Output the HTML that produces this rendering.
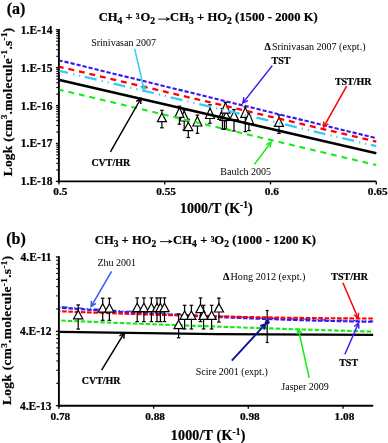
<!DOCTYPE html>
<html><head><meta charset="utf-8"><style>
html,body{margin:0;padding:0;background:#fff;}
svg{display:block;will-change:transform;}
text{font-family:"Liberation Serif", serif;fill:#000;}
text[font-weight="bold"],tspan[font-weight="bold"]{stroke:#000;stroke-width:0.22px;}
</style></head><body>
<svg width="388" height="443" viewBox="0 0 388 443">
<rect width="388" height="443" fill="#fff"/>
<line x1="58.90" y1="29.00" x2="58.90" y2="182.30" stroke="#000" stroke-width="1.9" stroke-linecap="butt"/>
<line x1="58.00" y1="181.40" x2="376.30" y2="181.40" stroke="#000" stroke-width="1.9" stroke-linecap="butt"/>
<line x1="55.90" y1="29.80" x2="58.90" y2="29.80" stroke="#000" stroke-width="1.3" stroke-linecap="butt"/>
<line x1="55.90" y1="67.70" x2="58.90" y2="67.70" stroke="#000" stroke-width="1.3" stroke-linecap="butt"/>
<line x1="56.30" y1="56.29" x2="58.90" y2="56.29" stroke="#000" stroke-width="1.15" stroke-linecap="butt"/>
<line x1="56.30" y1="49.62" x2="58.90" y2="49.62" stroke="#000" stroke-width="1.15" stroke-linecap="butt"/>
<line x1="56.30" y1="44.88" x2="58.90" y2="44.88" stroke="#000" stroke-width="1.15" stroke-linecap="butt"/>
<line x1="56.30" y1="41.21" x2="58.90" y2="41.21" stroke="#000" stroke-width="1.15" stroke-linecap="butt"/>
<line x1="56.30" y1="38.21" x2="58.90" y2="38.21" stroke="#000" stroke-width="1.15" stroke-linecap="butt"/>
<line x1="56.30" y1="35.67" x2="58.90" y2="35.67" stroke="#000" stroke-width="1.15" stroke-linecap="butt"/>
<line x1="56.30" y1="33.47" x2="58.90" y2="33.47" stroke="#000" stroke-width="1.15" stroke-linecap="butt"/>
<line x1="56.30" y1="31.53" x2="58.90" y2="31.53" stroke="#000" stroke-width="1.15" stroke-linecap="butt"/>
<line x1="55.90" y1="105.60" x2="58.90" y2="105.60" stroke="#000" stroke-width="1.3" stroke-linecap="butt"/>
<line x1="56.30" y1="94.19" x2="58.90" y2="94.19" stroke="#000" stroke-width="1.15" stroke-linecap="butt"/>
<line x1="56.30" y1="87.52" x2="58.90" y2="87.52" stroke="#000" stroke-width="1.15" stroke-linecap="butt"/>
<line x1="56.30" y1="82.78" x2="58.90" y2="82.78" stroke="#000" stroke-width="1.15" stroke-linecap="butt"/>
<line x1="56.30" y1="79.11" x2="58.90" y2="79.11" stroke="#000" stroke-width="1.15" stroke-linecap="butt"/>
<line x1="56.30" y1="76.11" x2="58.90" y2="76.11" stroke="#000" stroke-width="1.15" stroke-linecap="butt"/>
<line x1="56.30" y1="73.57" x2="58.90" y2="73.57" stroke="#000" stroke-width="1.15" stroke-linecap="butt"/>
<line x1="56.30" y1="71.37" x2="58.90" y2="71.37" stroke="#000" stroke-width="1.15" stroke-linecap="butt"/>
<line x1="56.30" y1="69.43" x2="58.90" y2="69.43" stroke="#000" stroke-width="1.15" stroke-linecap="butt"/>
<line x1="55.90" y1="143.50" x2="58.90" y2="143.50" stroke="#000" stroke-width="1.3" stroke-linecap="butt"/>
<line x1="56.30" y1="132.09" x2="58.90" y2="132.09" stroke="#000" stroke-width="1.15" stroke-linecap="butt"/>
<line x1="56.30" y1="125.42" x2="58.90" y2="125.42" stroke="#000" stroke-width="1.15" stroke-linecap="butt"/>
<line x1="56.30" y1="120.68" x2="58.90" y2="120.68" stroke="#000" stroke-width="1.15" stroke-linecap="butt"/>
<line x1="56.30" y1="117.01" x2="58.90" y2="117.01" stroke="#000" stroke-width="1.15" stroke-linecap="butt"/>
<line x1="56.30" y1="114.01" x2="58.90" y2="114.01" stroke="#000" stroke-width="1.15" stroke-linecap="butt"/>
<line x1="56.30" y1="111.47" x2="58.90" y2="111.47" stroke="#000" stroke-width="1.15" stroke-linecap="butt"/>
<line x1="56.30" y1="109.27" x2="58.90" y2="109.27" stroke="#000" stroke-width="1.15" stroke-linecap="butt"/>
<line x1="56.30" y1="107.33" x2="58.90" y2="107.33" stroke="#000" stroke-width="1.15" stroke-linecap="butt"/>
<line x1="55.90" y1="181.40" x2="58.90" y2="181.40" stroke="#000" stroke-width="1.3" stroke-linecap="butt"/>
<line x1="56.30" y1="169.99" x2="58.90" y2="169.99" stroke="#000" stroke-width="1.15" stroke-linecap="butt"/>
<line x1="56.30" y1="163.32" x2="58.90" y2="163.32" stroke="#000" stroke-width="1.15" stroke-linecap="butt"/>
<line x1="56.30" y1="158.58" x2="58.90" y2="158.58" stroke="#000" stroke-width="1.15" stroke-linecap="butt"/>
<line x1="56.30" y1="154.91" x2="58.90" y2="154.91" stroke="#000" stroke-width="1.15" stroke-linecap="butt"/>
<line x1="56.30" y1="151.91" x2="58.90" y2="151.91" stroke="#000" stroke-width="1.15" stroke-linecap="butt"/>
<line x1="56.30" y1="149.37" x2="58.90" y2="149.37" stroke="#000" stroke-width="1.15" stroke-linecap="butt"/>
<line x1="56.30" y1="147.17" x2="58.90" y2="147.17" stroke="#000" stroke-width="1.15" stroke-linecap="butt"/>
<line x1="56.30" y1="145.23" x2="58.90" y2="145.23" stroke="#000" stroke-width="1.15" stroke-linecap="butt"/>
<line x1="58.90" y1="181.40" x2="58.90" y2="184.40" stroke="#000" stroke-width="1.3" stroke-linecap="butt"/>
<text x="60.3" y="195.2" font-size="11.3" font-weight="bold" text-anchor="middle" >0.5</text>
<line x1="164.70" y1="181.40" x2="164.70" y2="184.40" stroke="#000" stroke-width="1.3" stroke-linecap="butt"/>
<text x="166.1" y="195.2" font-size="11.3" font-weight="bold" text-anchor="middle" >0.55</text>
<line x1="270.50" y1="181.40" x2="270.50" y2="184.40" stroke="#000" stroke-width="1.3" stroke-linecap="butt"/>
<text x="271.9" y="195.2" font-size="11.3" font-weight="bold" text-anchor="middle" >0.6</text>
<line x1="376.30" y1="181.40" x2="376.30" y2="184.40" stroke="#000" stroke-width="1.3" stroke-linecap="butt"/>
<text x="377.7" y="195.2" font-size="11.3" font-weight="bold" text-anchor="middle" >0.65</text>
<text x="52.4" y="33.7" font-size="11.5" font-weight="bold" text-anchor="end" >1.E-14</text>
<text x="52.4" y="71.6" font-size="11.5" font-weight="bold" text-anchor="end" >1.E-15</text>
<text x="52.4" y="109.5" font-size="11.5" font-weight="bold" text-anchor="end" >1.E-16</text>
<text x="52.4" y="147.4" font-size="11.5" font-weight="bold" text-anchor="end" >1.E-17</text>
<text x="52.4" y="185.3" font-size="11.5" font-weight="bold" text-anchor="end" >1.E-18</text>
<line x1="161.90" y1="110.30" x2="161.90" y2="127.80" stroke="#000" stroke-width="1.2" stroke-linecap="butt"/>
<line x1="160.10" y1="110.30" x2="163.70" y2="110.30" stroke="#000" stroke-width="1.2" stroke-linecap="butt"/>
<line x1="160.10" y1="127.80" x2="163.70" y2="127.80" stroke="#000" stroke-width="1.2" stroke-linecap="butt"/>
<line x1="184.20" y1="110.00" x2="184.20" y2="129.80" stroke="#000" stroke-width="1.2" stroke-linecap="butt"/>
<line x1="182.40" y1="110.00" x2="186.00" y2="110.00" stroke="#000" stroke-width="1.2" stroke-linecap="butt"/>
<line x1="182.40" y1="129.80" x2="186.00" y2="129.80" stroke="#000" stroke-width="1.2" stroke-linecap="butt"/>
<line x1="179.40" y1="106.20" x2="179.40" y2="124.20" stroke="#000" stroke-width="1.2" stroke-linecap="butt"/>
<line x1="177.60" y1="106.20" x2="181.20" y2="106.20" stroke="#000" stroke-width="1.2" stroke-linecap="butt"/>
<line x1="177.60" y1="124.20" x2="181.20" y2="124.20" stroke="#000" stroke-width="1.2" stroke-linecap="butt"/>
<line x1="188.30" y1="119.30" x2="188.30" y2="137.50" stroke="#000" stroke-width="1.2" stroke-linecap="butt"/>
<line x1="186.50" y1="119.30" x2="190.10" y2="119.30" stroke="#000" stroke-width="1.2" stroke-linecap="butt"/>
<line x1="186.50" y1="137.50" x2="190.10" y2="137.50" stroke="#000" stroke-width="1.2" stroke-linecap="butt"/>
<line x1="197.40" y1="115.10" x2="197.40" y2="133.30" stroke="#000" stroke-width="1.2" stroke-linecap="butt"/>
<line x1="195.60" y1="115.10" x2="199.20" y2="115.10" stroke="#000" stroke-width="1.2" stroke-linecap="butt"/>
<line x1="195.60" y1="133.30" x2="199.20" y2="133.30" stroke="#000" stroke-width="1.2" stroke-linecap="butt"/>
<line x1="210.00" y1="104.80" x2="210.00" y2="123.20" stroke="#000" stroke-width="1.2" stroke-linecap="butt"/>
<line x1="208.20" y1="104.80" x2="211.80" y2="104.80" stroke="#000" stroke-width="1.2" stroke-linecap="butt"/>
<line x1="208.20" y1="123.20" x2="211.80" y2="123.20" stroke="#000" stroke-width="1.2" stroke-linecap="butt"/>
<line x1="222.40" y1="108.50" x2="222.40" y2="129.00" stroke="#000" stroke-width="1.2" stroke-linecap="butt"/>
<line x1="220.60" y1="108.50" x2="224.20" y2="108.50" stroke="#000" stroke-width="1.2" stroke-linecap="butt"/>
<line x1="220.60" y1="129.00" x2="224.20" y2="129.00" stroke="#000" stroke-width="1.2" stroke-linecap="butt"/>
<line x1="224.40" y1="112.00" x2="224.40" y2="129.30" stroke="#000" stroke-width="1.2" stroke-linecap="butt"/>
<line x1="222.60" y1="112.00" x2="226.20" y2="112.00" stroke="#000" stroke-width="1.2" stroke-linecap="butt"/>
<line x1="222.60" y1="129.30" x2="226.20" y2="129.30" stroke="#000" stroke-width="1.2" stroke-linecap="butt"/>
<line x1="226.30" y1="112.50" x2="226.30" y2="129.00" stroke="#000" stroke-width="1.2" stroke-linecap="butt"/>
<line x1="224.50" y1="112.50" x2="228.10" y2="112.50" stroke="#000" stroke-width="1.2" stroke-linecap="butt"/>
<line x1="224.50" y1="129.00" x2="228.10" y2="129.00" stroke="#000" stroke-width="1.2" stroke-linecap="butt"/>
<line x1="225.50" y1="102.40" x2="225.50" y2="121.00" stroke="#000" stroke-width="1.2" stroke-linecap="butt"/>
<line x1="223.70" y1="102.40" x2="227.30" y2="102.40" stroke="#000" stroke-width="1.2" stroke-linecap="butt"/>
<line x1="223.70" y1="121.00" x2="227.30" y2="121.00" stroke="#000" stroke-width="1.2" stroke-linecap="butt"/>
<line x1="234.00" y1="109.50" x2="234.00" y2="131.00" stroke="#000" stroke-width="1.2" stroke-linecap="butt"/>
<line x1="232.20" y1="109.50" x2="235.80" y2="109.50" stroke="#000" stroke-width="1.2" stroke-linecap="butt"/>
<line x1="232.20" y1="131.00" x2="235.80" y2="131.00" stroke="#000" stroke-width="1.2" stroke-linecap="butt"/>
<line x1="245.30" y1="106.80" x2="245.30" y2="131.60" stroke="#000" stroke-width="1.2" stroke-linecap="butt"/>
<line x1="243.50" y1="106.80" x2="247.10" y2="106.80" stroke="#000" stroke-width="1.2" stroke-linecap="butt"/>
<line x1="243.50" y1="131.60" x2="247.10" y2="131.60" stroke="#000" stroke-width="1.2" stroke-linecap="butt"/>
<line x1="248.90" y1="111.50" x2="248.90" y2="130.60" stroke="#000" stroke-width="1.2" stroke-linecap="butt"/>
<line x1="247.10" y1="111.50" x2="250.70" y2="111.50" stroke="#000" stroke-width="1.2" stroke-linecap="butt"/>
<line x1="247.10" y1="130.60" x2="250.70" y2="130.60" stroke="#000" stroke-width="1.2" stroke-linecap="butt"/>
<line x1="279.00" y1="114.90" x2="279.00" y2="133.40" stroke="#000" stroke-width="1.2" stroke-linecap="butt"/>
<line x1="277.20" y1="114.90" x2="280.80" y2="114.90" stroke="#000" stroke-width="1.2" stroke-linecap="butt"/>
<line x1="277.20" y1="133.40" x2="280.80" y2="133.40" stroke="#000" stroke-width="1.2" stroke-linecap="butt"/>
<path d="M161.90,113.20 L166.40,121.60 L157.40,121.60 Z" fill="#fff" stroke="#000" stroke-width="1.2"/>
<path d="M184.20,111.00 L188.70,121.00 L179.70,121.00 Z" fill="#fff" stroke="#000" stroke-width="1.2"/>
<path d="M179.40,107.40 L183.90,117.40 L174.90,117.40 Z" fill="#fff" stroke="#000" stroke-width="1.2"/>
<path d="M188.30,122.20 L192.80,130.60 L183.80,130.60 Z" fill="#fff" stroke="#000" stroke-width="1.2"/>
<path d="M197.40,116.40 L201.90,126.00 L192.90,126.00 Z" fill="#fff" stroke="#000" stroke-width="1.2"/>
<path d="M210.00,108.00 L214.50,118.50 L205.50,118.50 Z" fill="#fff" stroke="#000" stroke-width="1.2"/>
<path d="M222.40,110.00 L226.90,119.50 L217.90,119.50 Z" fill="#fff" stroke="#000" stroke-width="1.2"/>
<path d="M224.40,111.00 L228.90,120.50 L219.90,120.50 Z" fill="#fff" stroke="#000" stroke-width="1.2"/>
<path d="M226.30,111.50 L230.80,120.50 L221.80,120.50 Z" fill="#fff" stroke="#000" stroke-width="1.2"/>
<path d="M225.50,102.60 L230.00,113.20 L221.00,113.20 Z" fill="#fff" stroke="#000" stroke-width="1.2"/>
<path d="M234.00,111.20 L238.50,119.80 L229.50,119.80 Z" fill="#fff" stroke="#000" stroke-width="1.2"/>
<path d="M245.30,107.50 L249.80,117.30 L240.80,117.30 Z" fill="#fff" stroke="#000" stroke-width="1.2"/>
<path d="M248.90,112.60 L253.40,123.60 L244.40,123.60 Z" fill="#fff" stroke="#000" stroke-width="1.2"/>
<path d="M279.00,117.60 L283.50,126.40 L274.50,126.40 Z" fill="#fff" stroke="#000" stroke-width="1.2"/>
<path d="M59.50,79.90 L376.30,153.30" fill="none" stroke="#000" stroke-width="2.55"/>
<path d="M59.50,89.70 L376.30,165.10" fill="none" stroke="#14ea14" stroke-width="2.1" stroke-dasharray="5.8 5.0" stroke-dashoffset="1.7"/>
<path d="M59.50,70.80 L376.30,146.20" fill="none" stroke="#33ccf2" stroke-width="2.3" stroke-dasharray="12.0 5.2 1.2 5.0 1.2 4.8" stroke-dashoffset="3.3"/>
<path d="M59.50,66.80 L376.30,141.60" fill="none" stroke="#ff0000" stroke-width="2.3" stroke-dasharray="5.86 4.93" stroke-dashoffset="1.64"/>
<path d="M59.50,60.40 L376.30,138.20" fill="none" stroke="#3c14f0" stroke-width="2.1" stroke-dasharray="4.22 1.96" stroke-dashoffset="1.03"/>
<line x1="134.70" y1="48.80" x2="144.20" y2="90.20" stroke="#33ccf2" stroke-width="1.5" stroke-linecap="butt"/>
<polyline points="140.60,86.04 144.20,90.20 145.63,84.89" fill="none" stroke="#33ccf2" stroke-width="1.5" stroke-linejoin="miter"/>
<line x1="272.30" y1="65.60" x2="242.90" y2="102.90" stroke="#3c14f0" stroke-width="1.5" stroke-linecap="butt"/>
<polyline points="243.88,97.49 242.90,102.90 247.93,100.68" fill="none" stroke="#3c14f0" stroke-width="1.5" stroke-linejoin="miter"/>
<line x1="346.60" y1="86.20" x2="323.70" y2="126.90" stroke="#ff0000" stroke-width="1.5" stroke-linecap="butt"/>
<polyline points="323.83,121.40 323.70,126.90 328.33,123.93" fill="none" stroke="#ff0000" stroke-width="1.5" stroke-linejoin="miter"/>
<line x1="110.40" y1="151.90" x2="140.90" y2="98.50" stroke="#000" stroke-width="1.5" stroke-linecap="butt"/>
<polyline points="140.73,104.00 140.90,98.50 136.25,101.44" fill="none" stroke="#000" stroke-width="1.5" stroke-linejoin="miter"/>
<line x1="254.40" y1="164.40" x2="271.00" y2="142.30" stroke="#14ea14" stroke-width="1.5" stroke-linecap="butt"/>
<polyline points="270.15,147.73 271.00,142.30 266.02,144.63" fill="none" stroke="#14ea14" stroke-width="1.5" stroke-linejoin="miter"/>
<text x="91.2" y="46.1" font-size="10" font-weight="normal" text-anchor="start" >Srinivasan 2007</text>
<text x="264.4" y="50.1" font-size="10" font-weight="normal" text-anchor="start" ><tspan font-weight="bold">&#916;</tspan><tspan dx="1.2">Srinivasan 2007 (expt.)</tspan></text>
<text x="271.6" y="63.5" font-size="10" font-weight="bold" text-anchor="start" >TST</text>
<text x="334.9" y="84.8" font-size="10" font-weight="bold" text-anchor="start" >TST/HR</text>
<text x="91.4" y="165.5" font-size="10" font-weight="bold" text-anchor="start" >CVT/HR</text>
<text x="220.3" y="175.2" font-size="10" font-weight="normal" text-anchor="start" >Baulch 2005</text>
<text x="6.7" y="14.4" font-size="16" font-weight="bold" text-anchor="start" >(a)</text>
<text x="98.7" y="21.2" font-size="12.6" font-weight="bold">CH<tspan dy="2.8" font-size="9.5">4</tspan><tspan dy="-2.8"> + </tspan><tspan dy="-2.4" font-size="7.6">3</tspan><tspan dy="2.4" dx="0.9">O</tspan><tspan dy="2.8" font-size="9.5">2</tspan></text>
<text x="170.1" y="21.2" font-size="12.6" font-weight="bold" textLength="147.6" lengthAdjust="spacing">CH<tspan dy="2.8" font-size="9.5">3</tspan><tspan dy="-2.8"> + HO</tspan><tspan dy="2.8" font-size="9.5">2</tspan><tspan dy="-2.8"> (1500 - 2000 K)</tspan></text>
<line x1="158.20" y1="19.10" x2="167.90" y2="19.10" stroke="#000" stroke-width="0.9" stroke-linecap="butt"/>
<path d="M170.40,19.10 L165.80,16.90 L167.00,19.10 L165.80,21.30 Z" fill="#000"/>
<text x="180.0" y="213.2" font-size="14" font-weight="bold">1000/T (K<tspan dy="-5" font-size="9.5">-1</tspan><tspan dy="5">)</tspan></text>
<text transform="translate(11.8,176.3) rotate(-90)" x="0" y="0" font-size="13.3" font-weight="bold" textLength="148.6" lengthAdjust="spacing">Logk (cm<tspan dy="-4.6" font-size="9.2">3</tspan><tspan dy="4.6">.molecule</tspan><tspan dy="-4.6" font-size="9.2">-1</tspan><tspan dy="4.6">.s</tspan><tspan dy="-4.6" font-size="9.2">-1</tspan><tspan dy="4.6">)</tspan></text>
<line x1="58.90" y1="256.20" x2="58.90" y2="406.60" stroke="#000" stroke-width="1.9" stroke-linecap="butt"/>
<line x1="58.00" y1="405.70" x2="373.20" y2="405.70" stroke="#000" stroke-width="1.9" stroke-linecap="butt"/>
<line x1="55.90" y1="257.00" x2="58.90" y2="257.00" stroke="#000" stroke-width="1.3" stroke-linecap="butt"/>
<line x1="55.90" y1="331.35" x2="58.90" y2="331.35" stroke="#000" stroke-width="1.3" stroke-linecap="butt"/>
<line x1="56.30" y1="308.97" x2="58.90" y2="308.97" stroke="#000" stroke-width="1.15" stroke-linecap="butt"/>
<line x1="56.30" y1="295.88" x2="58.90" y2="295.88" stroke="#000" stroke-width="1.15" stroke-linecap="butt"/>
<line x1="56.30" y1="286.59" x2="58.90" y2="286.59" stroke="#000" stroke-width="1.15" stroke-linecap="butt"/>
<line x1="56.30" y1="279.38" x2="58.90" y2="279.38" stroke="#000" stroke-width="1.15" stroke-linecap="butt"/>
<line x1="56.30" y1="273.49" x2="58.90" y2="273.49" stroke="#000" stroke-width="1.15" stroke-linecap="butt"/>
<line x1="56.30" y1="268.52" x2="58.90" y2="268.52" stroke="#000" stroke-width="1.15" stroke-linecap="butt"/>
<line x1="56.30" y1="264.21" x2="58.90" y2="264.21" stroke="#000" stroke-width="1.15" stroke-linecap="butt"/>
<line x1="56.30" y1="260.40" x2="58.90" y2="260.40" stroke="#000" stroke-width="1.15" stroke-linecap="butt"/>
<line x1="55.90" y1="405.70" x2="58.90" y2="405.70" stroke="#000" stroke-width="1.3" stroke-linecap="butt"/>
<line x1="56.30" y1="383.32" x2="58.90" y2="383.32" stroke="#000" stroke-width="1.15" stroke-linecap="butt"/>
<line x1="56.30" y1="370.23" x2="58.90" y2="370.23" stroke="#000" stroke-width="1.15" stroke-linecap="butt"/>
<line x1="56.30" y1="360.94" x2="58.90" y2="360.94" stroke="#000" stroke-width="1.15" stroke-linecap="butt"/>
<line x1="56.30" y1="353.73" x2="58.90" y2="353.73" stroke="#000" stroke-width="1.15" stroke-linecap="butt"/>
<line x1="56.30" y1="347.84" x2="58.90" y2="347.84" stroke="#000" stroke-width="1.15" stroke-linecap="butt"/>
<line x1="56.30" y1="342.87" x2="58.90" y2="342.87" stroke="#000" stroke-width="1.15" stroke-linecap="butt"/>
<line x1="56.30" y1="338.56" x2="58.90" y2="338.56" stroke="#000" stroke-width="1.15" stroke-linecap="butt"/>
<line x1="56.30" y1="334.75" x2="58.90" y2="334.75" stroke="#000" stroke-width="1.15" stroke-linecap="butt"/>
<line x1="58.90" y1="405.70" x2="58.90" y2="408.70" stroke="#000" stroke-width="1.3" stroke-linecap="butt"/>
<text x="60.4" y="419.9" font-size="11.3" font-weight="bold" text-anchor="middle" >0.78</text>
<line x1="153.60" y1="405.70" x2="153.60" y2="408.70" stroke="#000" stroke-width="1.3" stroke-linecap="butt"/>
<text x="155.1" y="419.9" font-size="11.3" font-weight="bold" text-anchor="middle" >0.88</text>
<line x1="248.30" y1="405.70" x2="248.30" y2="408.70" stroke="#000" stroke-width="1.3" stroke-linecap="butt"/>
<text x="249.8" y="419.9" font-size="11.3" font-weight="bold" text-anchor="middle" >0.98</text>
<line x1="343.00" y1="405.70" x2="343.00" y2="408.70" stroke="#000" stroke-width="1.3" stroke-linecap="butt"/>
<text x="344.5" y="419.9" font-size="11.3" font-weight="bold" text-anchor="middle" >1.08</text>
<text x="51.6" y="260.8" font-size="11.5" font-weight="bold" text-anchor="end" >4.E-11</text>
<text x="51.6" y="335.2" font-size="11.5" font-weight="bold" text-anchor="end" >4.E-12</text>
<text x="51.6" y="409.5" font-size="11.5" font-weight="bold" text-anchor="end" >4.E-13</text>
<path d="M59.90,331.90 Q216.55,334.80 373.20,334.90" fill="none" stroke="#000" stroke-width="2.4"/>
<path d="M59.90,320.50 Q216.55,327.15 373.20,331.60" fill="none" stroke="#14ea14" stroke-width="2.1" stroke-dasharray="4.5 2.0" stroke-dashoffset="5.1"/>
<path d="M59.90,306.70 Q216.55,318.15 373.20,321.00" fill="none" stroke="#3358f5" stroke-width="1.5" stroke-dasharray="6 2.6 1.2 2.6 1.2 2.6" stroke-dashoffset="14.4"/>
<path d="M59.90,307.70 Q216.55,319.25 373.20,321.80" fill="none" stroke="#3c14f0" stroke-width="2.1" stroke-dasharray="4.6 1.65" stroke-dashoffset="4.05"/>
<path d="M59.90,311.26 Q216.55,317.79 373.20,318.57" fill="none" stroke="#ff0000" stroke-width="2.1" stroke-dasharray="4.6 1.65" stroke-dashoffset="4.05"/>
<line x1="78.20" y1="304.90" x2="78.20" y2="329.10" stroke="#000" stroke-width="1.2" stroke-linecap="butt"/>
<line x1="76.40" y1="304.90" x2="80.00" y2="304.90" stroke="#000" stroke-width="1.2" stroke-linecap="butt"/>
<line x1="76.40" y1="329.10" x2="80.00" y2="329.10" stroke="#000" stroke-width="1.2" stroke-linecap="butt"/>
<path d="M78.20,310.40 L82.80,318.80 L73.60,318.80 Z" fill="#fff" stroke="#000" stroke-width="1.2" stroke-linejoin="miter"/>
<line x1="102.70" y1="298.20" x2="102.70" y2="320.30" stroke="#000" stroke-width="1.2" stroke-linecap="butt"/>
<line x1="100.90" y1="298.20" x2="104.50" y2="298.20" stroke="#000" stroke-width="1.2" stroke-linecap="butt"/>
<line x1="100.90" y1="320.30" x2="104.50" y2="320.30" stroke="#000" stroke-width="1.2" stroke-linecap="butt"/>
<path d="M102.70,303.80 L107.30,312.20 L98.10,312.20 Z" fill="#fff" stroke="#000" stroke-width="1.2" stroke-linejoin="miter"/>
<line x1="109.40" y1="298.20" x2="109.40" y2="320.30" stroke="#000" stroke-width="1.2" stroke-linecap="butt"/>
<line x1="107.60" y1="298.20" x2="111.20" y2="298.20" stroke="#000" stroke-width="1.2" stroke-linecap="butt"/>
<line x1="107.60" y1="320.30" x2="111.20" y2="320.30" stroke="#000" stroke-width="1.2" stroke-linecap="butt"/>
<path d="M109.40,303.80 L114.00,312.20 L104.80,312.20 Z" fill="#fff" stroke="#000" stroke-width="1.2" stroke-linejoin="miter"/>
<line x1="137.20" y1="297.90" x2="137.20" y2="321.60" stroke="#000" stroke-width="1.2" stroke-linecap="butt"/>
<line x1="135.40" y1="297.90" x2="139.00" y2="297.90" stroke="#000" stroke-width="1.2" stroke-linecap="butt"/>
<line x1="135.40" y1="321.60" x2="139.00" y2="321.60" stroke="#000" stroke-width="1.2" stroke-linecap="butt"/>
<path d="M137.20,303.30 L141.80,311.70 L132.60,311.70 Z" fill="#fff" stroke="#000" stroke-width="1.2" stroke-linejoin="miter"/>
<line x1="143.90" y1="297.90" x2="143.90" y2="321.60" stroke="#000" stroke-width="1.2" stroke-linecap="butt"/>
<line x1="142.10" y1="297.90" x2="145.70" y2="297.90" stroke="#000" stroke-width="1.2" stroke-linecap="butt"/>
<line x1="142.10" y1="321.60" x2="145.70" y2="321.60" stroke="#000" stroke-width="1.2" stroke-linecap="butt"/>
<path d="M143.90,303.30 L148.50,311.70 L139.30,311.70 Z" fill="#fff" stroke="#000" stroke-width="1.2" stroke-linejoin="miter"/>
<line x1="151.40" y1="297.90" x2="151.40" y2="321.60" stroke="#000" stroke-width="1.2" stroke-linecap="butt"/>
<line x1="149.60" y1="297.90" x2="153.20" y2="297.90" stroke="#000" stroke-width="1.2" stroke-linecap="butt"/>
<line x1="149.60" y1="321.60" x2="153.20" y2="321.60" stroke="#000" stroke-width="1.2" stroke-linecap="butt"/>
<path d="M151.40,303.30 L156.00,311.70 L146.80,311.70 Z" fill="#fff" stroke="#000" stroke-width="1.2" stroke-linejoin="miter"/>
<line x1="157.00" y1="297.90" x2="157.00" y2="321.60" stroke="#000" stroke-width="1.2" stroke-linecap="butt"/>
<line x1="155.20" y1="297.90" x2="158.80" y2="297.90" stroke="#000" stroke-width="1.2" stroke-linecap="butt"/>
<line x1="155.20" y1="321.60" x2="158.80" y2="321.60" stroke="#000" stroke-width="1.2" stroke-linecap="butt"/>
<path d="M157.00,303.30 L161.60,311.70 L152.40,311.70 Z" fill="#fff" stroke="#000" stroke-width="1.2" stroke-linejoin="miter"/>
<line x1="160.40" y1="297.90" x2="160.40" y2="321.60" stroke="#000" stroke-width="1.2" stroke-linecap="butt"/>
<line x1="158.60" y1="297.90" x2="162.20" y2="297.90" stroke="#000" stroke-width="1.2" stroke-linecap="butt"/>
<line x1="158.60" y1="321.60" x2="162.20" y2="321.60" stroke="#000" stroke-width="1.2" stroke-linecap="butt"/>
<path d="M160.40,303.30 L165.00,311.70 L155.80,311.70 Z" fill="#fff" stroke="#000" stroke-width="1.2" stroke-linejoin="miter"/>
<line x1="164.50" y1="297.90" x2="164.50" y2="321.60" stroke="#000" stroke-width="1.2" stroke-linecap="butt"/>
<line x1="162.70" y1="297.90" x2="166.30" y2="297.90" stroke="#000" stroke-width="1.2" stroke-linecap="butt"/>
<line x1="162.70" y1="321.60" x2="166.30" y2="321.60" stroke="#000" stroke-width="1.2" stroke-linecap="butt"/>
<path d="M164.50,303.30 L169.10,311.70 L159.90,311.70 Z" fill="#fff" stroke="#000" stroke-width="1.2" stroke-linejoin="miter"/>
<line x1="178.60" y1="314.00" x2="178.60" y2="337.80" stroke="#000" stroke-width="1.2" stroke-linecap="butt"/>
<line x1="176.80" y1="314.00" x2="180.40" y2="314.00" stroke="#000" stroke-width="1.2" stroke-linecap="butt"/>
<line x1="176.80" y1="337.80" x2="180.40" y2="337.80" stroke="#000" stroke-width="1.2" stroke-linecap="butt"/>
<path d="M178.60,320.20 L183.20,328.60 L174.00,328.60 Z" fill="#fff" stroke="#000" stroke-width="1.2" stroke-linejoin="miter"/>
<line x1="184.60" y1="305.30" x2="184.60" y2="329.00" stroke="#000" stroke-width="1.2" stroke-linecap="butt"/>
<line x1="182.80" y1="305.30" x2="186.40" y2="305.30" stroke="#000" stroke-width="1.2" stroke-linecap="butt"/>
<line x1="182.80" y1="329.00" x2="186.40" y2="329.00" stroke="#000" stroke-width="1.2" stroke-linecap="butt"/>
<path d="M184.60,311.00 L189.20,319.40 L180.00,319.40 Z" fill="#fff" stroke="#000" stroke-width="1.2" stroke-linejoin="miter"/>
<line x1="191.40" y1="305.30" x2="191.40" y2="329.00" stroke="#000" stroke-width="1.2" stroke-linecap="butt"/>
<line x1="189.60" y1="305.30" x2="193.20" y2="305.30" stroke="#000" stroke-width="1.2" stroke-linecap="butt"/>
<line x1="189.60" y1="329.00" x2="193.20" y2="329.00" stroke="#000" stroke-width="1.2" stroke-linecap="butt"/>
<path d="M191.40,311.00 L196.00,319.40 L186.80,319.40 Z" fill="#fff" stroke="#000" stroke-width="1.2" stroke-linejoin="miter"/>
<line x1="200.50" y1="297.90" x2="200.50" y2="321.60" stroke="#000" stroke-width="1.2" stroke-linecap="butt"/>
<line x1="198.70" y1="297.90" x2="202.30" y2="297.90" stroke="#000" stroke-width="1.2" stroke-linecap="butt"/>
<line x1="198.70" y1="321.60" x2="202.30" y2="321.60" stroke="#000" stroke-width="1.2" stroke-linecap="butt"/>
<path d="M200.50,304.20 L205.10,312.60 L195.90,312.60 Z" fill="#fff" stroke="#000" stroke-width="1.2" stroke-linejoin="miter"/>
<line x1="203.60" y1="305.30" x2="203.60" y2="329.00" stroke="#000" stroke-width="1.2" stroke-linecap="butt"/>
<line x1="201.80" y1="305.30" x2="205.40" y2="305.30" stroke="#000" stroke-width="1.2" stroke-linecap="butt"/>
<line x1="201.80" y1="329.00" x2="205.40" y2="329.00" stroke="#000" stroke-width="1.2" stroke-linecap="butt"/>
<path d="M203.60,311.00 L208.20,319.40 L199.00,319.40 Z" fill="#fff" stroke="#000" stroke-width="1.2" stroke-linejoin="miter"/>
<line x1="211.60" y1="305.30" x2="211.60" y2="329.00" stroke="#000" stroke-width="1.2" stroke-linecap="butt"/>
<line x1="209.80" y1="305.30" x2="213.40" y2="305.30" stroke="#000" stroke-width="1.2" stroke-linecap="butt"/>
<line x1="209.80" y1="329.00" x2="213.40" y2="329.00" stroke="#000" stroke-width="1.2" stroke-linecap="butt"/>
<path d="M211.60,311.00 L216.20,319.40 L207.00,319.40 Z" fill="#fff" stroke="#000" stroke-width="1.2" stroke-linejoin="miter"/>
<line x1="218.90" y1="298.10" x2="218.90" y2="322.10" stroke="#000" stroke-width="1.2" stroke-linecap="butt"/>
<line x1="217.10" y1="298.10" x2="220.70" y2="298.10" stroke="#000" stroke-width="1.2" stroke-linecap="butt"/>
<line x1="217.10" y1="322.10" x2="220.70" y2="322.10" stroke="#000" stroke-width="1.2" stroke-linecap="butt"/>
<path d="M218.90,303.60 L223.50,312.00 L214.30,312.00 Z" fill="#fff" stroke="#000" stroke-width="1.2" stroke-linejoin="miter"/>
<line x1="267.20" y1="310.50" x2="267.20" y2="342.50" stroke="#000" stroke-width="1.2" stroke-linecap="butt"/>
<line x1="265.70" y1="310.50" x2="268.70" y2="310.50" stroke="#000" stroke-width="1.2" stroke-linecap="butt"/>
<line x1="265.70" y1="342.50" x2="268.70" y2="342.50" stroke="#000" stroke-width="1.2" stroke-linecap="butt"/>
<circle cx="267.2" cy="322.2" r="2.4" fill="#0c1496"/>
<line x1="111.60" y1="271.30" x2="91.20" y2="306.40" stroke="#3358f5" stroke-width="1.5" stroke-linecap="butt"/>
<polyline points="91.41,300.90 91.20,306.40 95.87,303.50" fill="none" stroke="#3358f5" stroke-width="1.5" stroke-linejoin="miter"/>
<line x1="342.90" y1="282.70" x2="358.10" y2="318.20" stroke="#ff0000" stroke-width="1.5" stroke-linecap="butt"/>
<polyline points="353.81,314.75 358.10,318.20 358.56,312.72" fill="none" stroke="#ff0000" stroke-width="1.5" stroke-linejoin="miter"/>
<line x1="344.90" y1="354.30" x2="358.50" y2="323.10" stroke="#4020f5" stroke-width="1.5" stroke-linecap="butt"/>
<polyline points="358.93,328.58 358.50,323.10 354.19,326.52" fill="none" stroke="#4020f5" stroke-width="1.5" stroke-linejoin="miter"/>
<line x1="231.80" y1="360.60" x2="265.40" y2="324.20" stroke="#0c1496" stroke-width="1.9" stroke-linecap="butt"/>
<polyline points="264.00,329.52 265.40,324.20 260.21,326.02" fill="none" stroke="#0c1496" stroke-width="1.9" stroke-linejoin="miter"/>
<line x1="309.20" y1="377.80" x2="298.30" y2="329.00" stroke="#14ea14" stroke-width="1.5" stroke-linecap="butt"/>
<polyline points="301.88,333.18 298.30,329.00 296.84,334.30" fill="none" stroke="#14ea14" stroke-width="1.5" stroke-linejoin="miter"/>
<line x1="101.60" y1="370.10" x2="124.20" y2="333.10" stroke="#000" stroke-width="1.5" stroke-linecap="butt"/>
<polyline points="123.87,338.59 124.20,333.10 119.47,335.90" fill="none" stroke="#000" stroke-width="1.5" stroke-linejoin="miter"/>
<text x="97.4" y="266.2" font-size="10" font-weight="normal" text-anchor="start" >Zhu 2001</text>
<text x="222.9" y="279.8" font-size="10.2" font-weight="normal" text-anchor="start" ><tspan font-weight="bold">&#916;</tspan><tspan dx="1.2">Hong 2012 (expt.)</tspan></text>
<text x="331.3" y="280.4" font-size="10" font-weight="bold" text-anchor="start" >TST/HR</text>
<text x="81.7" y="383.7" font-size="10" font-weight="bold" text-anchor="start" >CVT/HR</text>
<text x="195.8" y="374.5" font-size="10" font-weight="normal" text-anchor="start" >Scire 2001 (expt.)</text>
<text x="281.3" y="390.3" font-size="10" font-weight="normal" text-anchor="start" >Jasper 2009</text>
<text x="339.2" y="365.8" font-size="10" font-weight="bold" text-anchor="start" >TST</text>
<text x="6.2" y="244.3" font-size="16" font-weight="bold" text-anchor="start" >(b)</text>
<text x="94.8" y="244.3" font-size="12.6" font-weight="bold">CH<tspan dy="2.8" font-size="9.5">3</tspan><tspan dy="-2.8"> + HO</tspan><tspan dy="2.8" font-size="9.5">2</tspan></text>
<text x="173.0" y="244.3" font-size="12.6" font-weight="bold" textLength="143.0" lengthAdjust="spacing">CH<tspan dy="2.8" font-size="9.5">4</tspan><tspan dy="-2.8"> + </tspan><tspan dy="-2.4" font-size="7.6">3</tspan><tspan dy="2.4" dx="-0.3">O</tspan><tspan dy="2.8" font-size="9.5">2</tspan><tspan dy="-2.8"> (1000 - 1200 K)</tspan></text>
<line x1="160.10" y1="241.60" x2="170.30" y2="241.60" stroke="#000" stroke-width="0.9" stroke-linecap="butt"/>
<path d="M172.80,241.60 L168.20,239.40 L169.40,241.60 L168.20,243.80 Z" fill="#000"/>
<text x="170.8" y="439.9" font-size="14" font-weight="bold" textLength="74.6" lengthAdjust="spacing">1000/T (K<tspan dy="-5" font-size="9.5">-1</tspan><tspan dy="5">)</tspan></text>
<text transform="translate(11.3,405.0) rotate(-90)" x="0" y="0" font-size="13.3" font-weight="bold" textLength="149.2" lengthAdjust="spacing">Logk (cm<tspan dy="-4.6" font-size="9.2">3</tspan><tspan dy="4.6">.molecule</tspan><tspan dy="-4.6" font-size="9.2">-1</tspan><tspan dy="4.6">.s</tspan><tspan dy="-4.6" font-size="9.2">-1</tspan><tspan dy="4.6">)</tspan></text>
</svg>
</body></html>
